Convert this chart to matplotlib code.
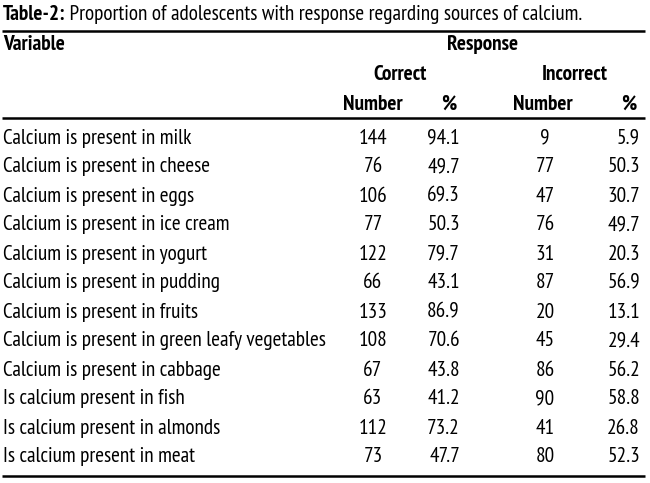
import matplotlib
matplotlib.use('Agg')
import matplotlib.pyplot as plt

plt.rcParams['font.family'] = ['PT Sans Narrow', 'DejaVu Sans']

title_bold = 'Table-2:'
title_rest = ' Proportion of adolescents with response regarding sources of calcium.'

variables = [
    'Calcium is present in milk',
    'Calcium is present in cheese',
    'Calcium is present in eggs',
    'Calcium is present in ice cream',
    'Calcium is present in yogurt',
    'Calcium is present in pudding',
    'Calcium is present in fruits',
    'Calcium is present in green leafy vegetables',
    'Calcium is present in cabbage',
    'Is calcium present in fish',
    'Is calcium present in almonds',
    'Is calcium present in meat',
]
correct_n = [144, 76, 106, 77, 122, 66, 133, 108, 67, 63, 112, 73]
correct_pct = ['94.1', '49.7', '69.3', '50.3', '79.7', '43.1', '86.9', '70.6', '43.8', '41.2', '73.2', '47.7']
incorrect_n = [9, 77, 47, 76, 31, 87, 20, 45, 86, 90, 41, 80]
incorrect_pct = ['5.9', '50.3', '30.7', '49.7', '20.3', '56.9', '13.1', '29.4', '56.2', '58.8', '26.8', '52.3']

fig = plt.figure(figsize=(6.5, 4.83), dpi=100)
ax = fig.add_axes([0, 0, 1, 1])
ax.set_xlim(0, 650)
ax.set_ylim(483, 0)
ax.axis('off')

fs = 15.3
t = ax.text(3, 14, title_bold, fontsize=fs, fontweight='bold', va='center', ha='left')
ax.annotate(title_rest, xy=(1, 0.5), xycoords=t, va='center', ha='left', fontsize=fs)

# rules
for y in [31, 118, 476]:
    ax.plot([2, 645], [y, y], color='black', lw=1.8, solid_capstyle='butt')

# header
ax.text(3, 45, 'Variable', fontsize=fs, fontweight='bold', va='center')
ax.text(483, 45, 'Response', fontsize=fs, fontweight='bold', va='center', ha='center')
ax.text(400, 75, 'Correct', fontsize=fs, fontweight='bold', va='center', ha='center')
ax.text(575, 75, 'Incorrect', fontsize=fs, fontweight='bold', va='center', ha='center')
ax.text(373, 104, 'Number', fontsize=fs, fontweight='bold', va='center', ha='center')
ax.text(449, 104, '%', fontsize=fs, fontweight='bold', va='center', ha='center')
ax.text(543, 104, 'Number', fontsize=fs, fontweight='bold', va='center', ha='center')
ax.text(629, 104, '%', fontsize=fs, fontweight='bold', va='center', ha='center')

y0, dy = 138, 29.0
for i, v in enumerate(variables):
    y = y0 + i * dy
    ax.text(3, y, v, fontsize=fs, va='center', ha='left')
    ax.text(373, y, str(correct_n[i]), fontsize=fs, va='center', ha='center')
    ax.text(460, y, correct_pct[i], fontsize=fs, va='center', ha='right')
    ax.text(545, y, str(incorrect_n[i]), fontsize=fs, va='center', ha='center')
    ax.text(640, y, incorrect_pct[i], fontsize=fs, va='center', ha='right')

fig.savefig('out.png', dpi=100)
